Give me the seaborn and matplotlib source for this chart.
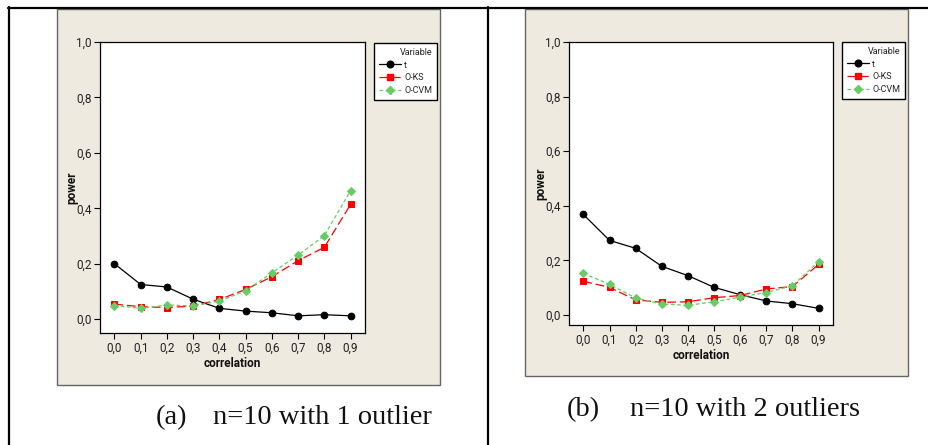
import numpy as np
import pandas as pd
import matplotlib
matplotlib.use("Agg")
import matplotlib.pyplot as plt
import seaborn as sns
from matplotlib.patches import Rectangle
from matplotlib.lines import Line2D

# ---------------- data ----------------
correlation = [0.0, 0.1, 0.2, 0.3, 0.4, 0.5, 0.6, 0.7, 0.8, 0.9]
tick_labels_x = ["0,0", "0,1", "0,2", "0,3", "0,4", "0,5", "0,6", "0,7", "0,8", "0,9"]
y_ticks = [0.0, 0.2, 0.4, 0.6, 0.8, 1.0]
tick_labels_y = ["0,0", "0,2", "0,4", "0,6", "0,8", "1,0"]
series_names = ["t", "O-KS", "O-CVM"]

# (a) n=10 with 1 outlier
a_t = [0.200, 0.125, 0.116, 0.072, 0.039, 0.029, 0.023, 0.012, 0.016, 0.012]
a_ks = [0.054, 0.045, 0.042, 0.047, 0.071, 0.107, 0.153, 0.211, 0.259, 0.414]
a_cvm = [0.049, 0.039, 0.051, 0.048, 0.065, 0.102, 0.167, 0.231, 0.301, 0.464]

# (b) n=10 with 2 outliers
b_t = [0.368, 0.273, 0.244, 0.178, 0.144, 0.101, 0.074, 0.051, 0.041, 0.024]
b_ks = [0.123, 0.101, 0.055, 0.046, 0.048, 0.063, 0.071, 0.095, 0.104, 0.185]
b_cvm = [0.152, 0.112, 0.062, 0.040, 0.035, 0.048, 0.065, 0.082, 0.107, 0.195]

captions = [("(a)", "n=10 with 1 outlier"), ("(b)", "n=10 with 2 outliers")]

# ---------------- figure ----------------
sns.set_theme(style="white")
NARROW = ["Liberation Sans Narrow", "DejaVu Sans Condensed", "Roboto", "DejaVu Sans"]
plt.rcParams["font.family"] = NARROW

W, H = 929, 445
fig = plt.figure(figsize=(W / 100, H / 100), dpi=100)
fig.patch.set_facecolor("white")


def fx(px):
    return px / W


def fy(py):
    return 1 - py / H


BEIGE = "#EEEAE0"

# table lines
fig.add_artist(Line2D([fx(8), fx(929)], [fy(8), fy(8)], color="black", lw=1.6, transform=fig.transFigure))
fig.add_artist(Line2D([fx(8.5), fx(8.5)], [fy(7), fy(445)], color="black", lw=1.6, transform=fig.transFigure))
fig.add_artist(Line2D([fx(488), fx(488)], [fy(7), fy(445)], color="black", lw=1.6, transform=fig.transFigure))

panels = [
    dict(bg=(57, 9, 440, 385), ax=(100, 42, 365, 333), ylim=(-0.05, 1.0),
         data=(a_t, a_ks, a_cvm), leg=(374, 43), cap=(156, 213, 418), ylab_x=78),
    dict(bg=(525, 9, 908, 376), ax=(569, 42, 833, 325), ylim=(-0.037, 1.0),
         data=(b_t, b_ks, b_cvm), leg=(842, 42), cap=(567, 630, 410), ylab_x=547),
]

colors = ["black", "#FF0000", "#66CC66"]
markers = ["o", "s", "D"]
msizes = [4.8, 4.4, 4.2]
dashes = [None, (7, 3), (3, 2)]

for k, p in enumerate(panels):
    x0, y0, x1, y1 = p["bg"]
    fig.add_artist(Rectangle((fx(x0), fy(y1)), fx(x1 - x0), (y1 - y0) / H,
                             transform=fig.transFigure, facecolor=BEIGE,
                             edgecolor="#666666", lw=1.0, zorder=0))
    ax0, ay0, ax1, ay1 = p["ax"]
    ax = fig.add_axes([fx(ax0), fy(ay1), fx(ax1 - ax0), (ay1 - ay0) / H])
    ax.set_facecolor("white")
    for i, (name, vals) in enumerate(zip(series_names, p["data"])):
        df = pd.DataFrame({"correlation": correlation, "power": vals})
        sns.lineplot(data=df, x="correlation", y="power", ax=ax, color=colors[i],
                     marker=markers[i], markersize=msizes[i], markeredgecolor=colors[i],
                     linewidth=0.9, label=name, legend=False)
        line = ax.lines[-1]
        if dashes[i] is not None:
            line.set_dashes(dashes[i])
    ax.set_xlim(-0.055, 0.955)
    ax.set_ylim(*p["ylim"])
    ax.set_xticks(correlation)
    ax.set_xticklabels(tick_labels_x)
    ax.set_yticks(y_ticks)
    ax.set_yticklabels(tick_labels_y)
    ax.tick_params(axis="both", direction="out", length=4, width=0.8, color="black",
                   labelsize=8.5, pad=2, left=True, bottom=True, labelcolor="#222222")
    for s in ax.spines.values():
        s.set_color("black")
        s.set_linewidth(0.9)
    ax.set_xlabel("correlation", fontsize=8.5, fontweight="bold", labelpad=2, color="#111111")
    ax.set_ylabel("power", fontsize=8.5, fontweight="bold", color="#111111")
    ax.yaxis.set_label_coords((p["ylab_x"] - ax0) / (ax1 - ax0), 0.5)

    handles = []
    for i in range(3):
        h = Line2D([], [], color=colors[i], marker=markers[i], markersize=msizes[i], lw=0.9)
        if dashes[i] is not None:
            h.set_linestyle((0, dashes[i]))
        handles.append(h)
    lx, ly = p["leg"]
    leg = fig.legend(handles, series_names, title="Variable", loc="upper left",
                     bbox_to_anchor=(fx(lx), fy(ly)), bbox_transform=fig.transFigure,
                     fontsize=6.5, title_fontsize=6.5, frameon=True, fancybox=False,
                     edgecolor="black", framealpha=1, borderaxespad=0, numpoints=1,
                     handlelength=2.4, handletextpad=0.4, labelspacing=0.4,
                     borderpad=0.55, alignment="right")
    leg.get_frame().set_linewidth(1.0)

    cx1, cx2, cy = p["cap"]
    fig.text(fx(cx1), fy(cy), captions[k][0], fontsize=20.5,
             family="Liberation Serif", va="center", ha="left", color="#111111")
    fig.text(fx(cx2), fy(cy), captions[k][1], fontsize=20.5,
             family="Liberation Serif", va="center", ha="left", color="#111111")

fig.savefig("out.png", dpi=100, facecolor="white")
